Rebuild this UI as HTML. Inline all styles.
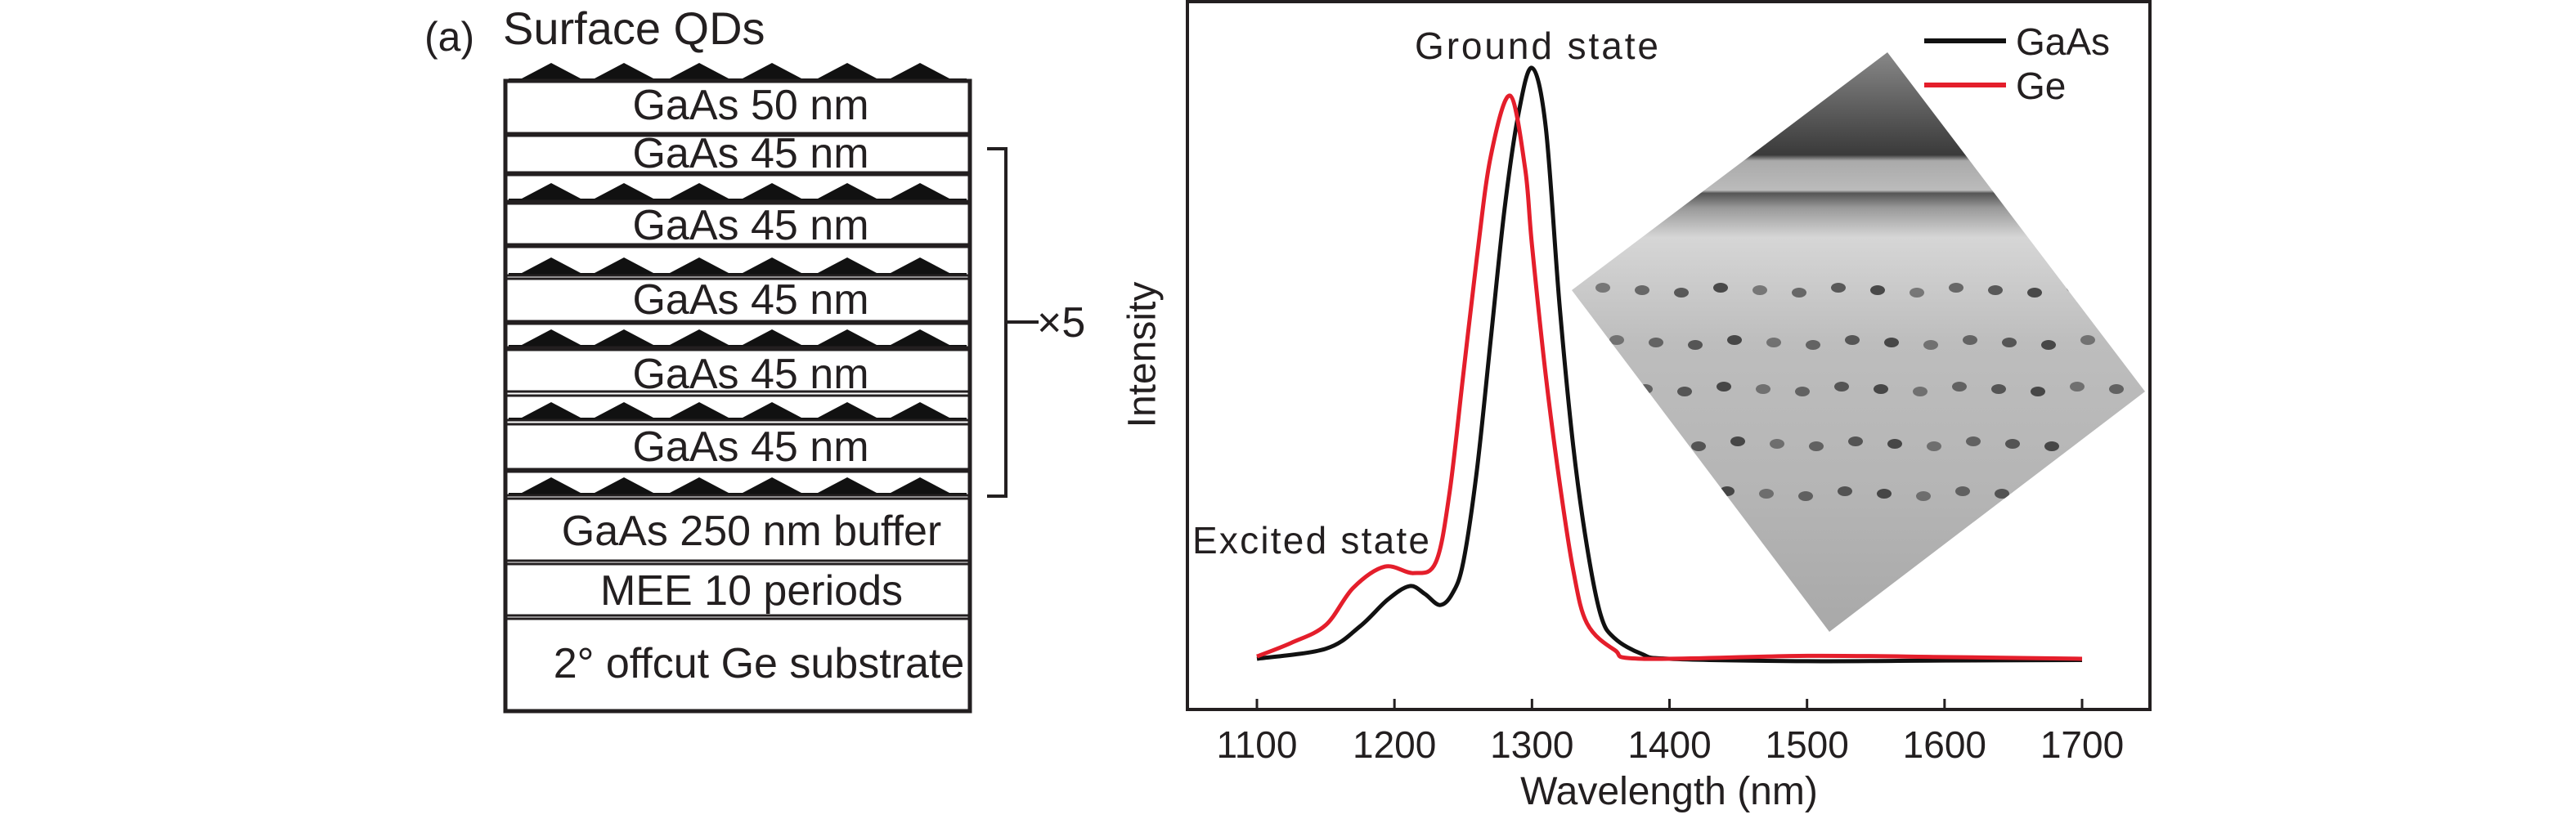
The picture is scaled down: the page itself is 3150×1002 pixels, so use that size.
<!DOCTYPE html>
<html><head><meta charset="utf-8"><style>
html,body{margin:0;padding:0;background:#fff;}
svg{display:block;}
text{font-family:"Liberation Sans",sans-serif;fill:#231f20;}
</style></head><body>
<svg width="3150" height="1002" viewBox="0 0 3150 1002" xmlns="http://www.w3.org/2000/svg">
<g id="diagram">
  <text x="519" y="62" font-size="50">(a)</text>
  <text x="615" y="54" font-size="56">Surface QDs</text>
  <g id="qds"></g>
  <rect x="618" y="99" width="568" height="771" fill="none" stroke="#231f20" stroke-width="5"/>
  <g id="lines" stroke="#231f20" stroke-width="3"></g>
  <g font-size="52" text-anchor="middle">
    <text x="918" y="146">GaAs 50 nm</text>
    <text x="918" y="205">GaAs 45 nm</text>
    <text x="918" y="293">GaAs 45 nm</text>
    <text x="918" y="384">GaAs 45 nm</text>
    <text x="918" y="475">GaAs 45 nm</text>
    <text x="918" y="564">GaAs 45 nm</text>
    <text x="919" y="667">GaAs 250 nm buffer</text>
    <text x="919" y="740">MEE 10 periods</text>
    <text x="928" y="829">2° offcut Ge substrate</text>
  </g>
  <path d="M1207 182 H1230 V607 H1207 M1230 394 H1270" fill="none" stroke="#231f20" stroke-width="4"/>
  <text x="1268" y="412" font-size="52">×5</text>
</g>

<g id="chart">
  <g id="tem">
    <defs>
      <clipPath id="dia"><polygon points="2308,64 2623,479 2237,773 1922,355"/></clipPath>
      <linearGradient id="tg" x1="0" y1="0" x2="0" y2="1">
        <stop offset="0" stop-color="#8a8a8a"/><stop offset="0.18" stop-color="#3a3a3a"/>
        <stop offset="0.19" stop-color="#aaa"/><stop offset="0.24" stop-color="#bbb"/>
        <stop offset="0.245" stop-color="#555"/><stop offset="0.27" stop-color="#999"/>
        <stop offset="0.32" stop-color="#d6d6d6"/><stop offset="0.5" stop-color="#bdbdbd"/>
        <stop offset="0.75" stop-color="#b5b5b5"/><stop offset="1" stop-color="#a8a8a8"/>
      </linearGradient>
    </defs>
    <g clip-path="url(#dia)">
      <rect x="1900" y="60" width="740" height="720" fill="url(#tg)"/>
      <g id="dots" fill="#333"></g>
    </g>
  </g>
  <path id="axes" d="M1452 0 V868 H2629 V2 H1452" fill="none" stroke="#231f20" stroke-width="4"/>
  <g id="xticks"></g>
  <g id="series"></g>
  <text x="1400" y="434" font-size="48" text-anchor="middle" transform="rotate(-90 1400 434)" dominant-baseline="middle">Intensity</text>
  <text x="2041" y="984" font-size="48" text-anchor="middle">Wavelength (nm)</text>
  <text x="1730" y="72" font-size="46" textLength="298">Ground state</text>
  <text x="1458" y="677" font-size="46" textLength="290">Excited state</text>
  <g>
    <line x1="2353" y1="50" x2="2453" y2="50" stroke="#111" stroke-width="6"/>
    <text x="2465" y="67" font-size="46">GaAs</text>
    <line x1="2353" y1="104" x2="2453" y2="104" stroke="#e41e2b" stroke-width="6"/>
    <text x="2465" y="121" font-size="46">Ge</text>
  </g>
</g>
</svg>
<script>
const tickLabels = [1100,1200,1300,1400,1500,1600,1700];
const gaasX = [1100,1150,1175,1195,1211,1222,1233,1242,1250,1260,1270,1280,1290,1300,1310,1320,1330,1340,1350,1360,1380,1400,1500,1600,1700];
const gaasY = [0,0.017,0.055,0.1,0.123,0.11,0.091,0.11,0.163,0.32,0.54,0.76,0.92,1.0,0.9,0.6,0.36,0.19,0.074,0.035,0.008,0,-0.004,-0.003,-0.002];
const geX = [1100,1125,1150,1170,1193,1214,1230,1240,1250,1260,1270,1284,1295,1300,1310,1320,1330,1340,1360,1380,1500,1600,1700];
const geY = [0.004,0.027,0.057,0.12,0.156,0.145,0.163,0.28,0.48,0.68,0.85,0.953,0.83,0.7,0.48,0.3,0.15,0.06,0.015,0,0.005,0.003,0];
const NS='http://www.w3.org/2000/svg';
const xs = v => 1537 + (v-1100)*1.6817;
const ys = v => 806 - v*723;
const xt=document.getElementById('xticks');
tickLabels.forEach(t=>{
  const l=document.createElementNS(NS,'line');
  l.setAttribute('x1',xs(t));l.setAttribute('x2',xs(t));l.setAttribute('y1',868);l.setAttribute('y2',855);
  l.setAttribute('stroke','#231f20');l.setAttribute('stroke-width','3');
  
  
  xt.appendChild(l);
  const tx=document.createElementNS(NS,'text');
  tx.setAttribute('x',xs(t));tx.setAttribute('y',927);tx.setAttribute('font-size','46');tx.setAttribute('text-anchor','middle');
  tx.textContent=t;
  
  
  xt.appendChild(tx);
});
function path(X,Y){
  const p=X.map((x,i)=>[xs(x),ys(Y[i])]);
  let d='M'+p[0][0]+' '+p[0][1];
  for(let i=0;i<p.length-1;i++){
    const p0=p[i-1]||p[i],p1=p[i],p2=p[i+1],p3=p[i+2]||p2;
    const c1=[p1[0]+(p2[0]-p0[0])/6,p1[1]+(p2[1]-p0[1])/6];
    const c2=[p2[0]-(p3[0]-p1[0])/6,p2[1]-(p3[1]-p1[1])/6];
    d+=` C${c1[0]} ${c1[1]} ${c2[0]} ${c2[1]} ${p2[0]} ${p2[1]}`;
  }
  return d;
}
const sg=document.getElementById('series');
const pg=document.createElementNS(NS,'path');
pg.setAttribute('d',path(gaasX,gaasY));pg.setAttribute('fill','none');pg.setAttribute('stroke','#111');pg.setAttribute('stroke-width','5');


sg.appendChild(pg);
const pr=document.createElementNS(NS,'path');
pr.setAttribute('d',path(geX,geY));pr.setAttribute('fill','none');pr.setAttribute('stroke','#e41e2b');pr.setAttribute('stroke-width','5');


sg.appendChild(pr);

const lineYs=[163,166,211,214,246,249,299,302,337,341,393,396,425,428,479,484,514,519,574,577,606,610,686,690,753,757];
const lg=document.getElementById('lines');
lineYs.forEach(y=>{const l=document.createElementNS(NS,'line');l.setAttribute('x1',618);l.setAttribute('x2',1186);l.setAttribute('y1',y);l.setAttribute('y2',y);


lg.appendChild(l);});
const qdBases=[99,246,337,425,514,606];
const qdX=[674,763,855,944,1036,1125];
const qg=document.getElementById('qds');
qdBases.forEach(b=>{
  let d=`M${622} ${b} L${622} ${b-3} `;
  qdX.forEach(x=>{d+=`L${x-36} ${b-3} L${x} ${b-22} L${x+36} ${b-3} `;});
  d+=`L1182 ${b-3} L1182 ${b} Z`;
  const p=document.createElementNS(NS,'path');p.setAttribute('d',d);p.setAttribute('fill','#111');
  
  
  qg.appendChild(p);
});
const dg=document.getElementById('dots');
const rowsY=[355,419,476,543,604];
rowsY.forEach((y,r)=>{
  for(let k=0;k<14;k++){
    const e=document.createElementNS(NS,'ellipse');
    e.setAttribute('cx',1960+k*48+(r*17)%30);e.setAttribute('cy',y+(k%3-1)*3);
    e.setAttribute('rx',9);e.setAttribute('ry',6);e.setAttribute('opacity',0.55+0.1*(k%4));
    
    
    dg.appendChild(e);
  }
});
</script>
</body></html>
